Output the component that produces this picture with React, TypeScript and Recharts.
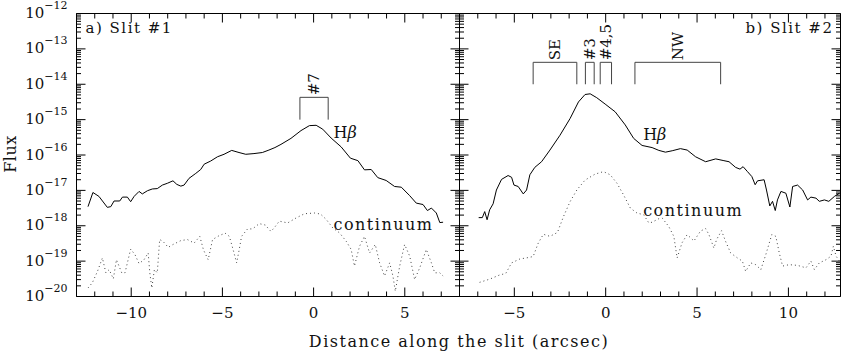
import {
  Line,
  LineChart,
  ReferenceArea,
  ReferenceDot,
  ReferenceLine,
  XAxis,
  YAxis,
} from "recharts";

const W = 844;
const H = 355;
const serif = "'DejaVu Serif', serif";
const ink = "#111";
const PLOT_TOP = 13.5;
const PLOT_BOTTOM = 296.5;

// Slit #1: distance (arcsec) and log10 flux
const slit1HbX = [
  -12.37, -12.1, -11.77, -11.31, -11.12, -10.94, -10.63, -10.48, -10.21, -10.03, -9.84, -9.57,
  -9.39, -9.11, -8.84, -8.57, -8.29, -8.02, -7.71, -7.5, -7.28, -7.1, -6.83, -6.46, -6.19, -6.0,
  -5.64, -5.27, -4.91, -4.49, -4.09, -3.72, -3.27, -2.81, -2.45, -2.12, -1.79, -1.24, -0.69,
  -0.23, 0.14, 0.5, 0.96, 1.51, 2.02, 2.43, 2.79, 3.16, 3.52, 3.98, 4.44, 4.81, 5.27, 5.63, 6.0,
  6.24, 6.46, 6.73, 6.92, 7.1,
];
const slit1HbLog = [
  -17.46, -17.06, -17.17, -17.48, -17.46, -17.3, -17.3, -17.19, -17.19, -17.32, -17.17, -17.03,
  -17.1, -17.01, -16.96, -16.95, -16.85, -16.8, -16.73, -16.83, -16.88, -16.85, -16.66, -16.52,
  -16.41, -16.26, -16.17, -16.05, -15.98, -15.87, -15.93, -15.98, -15.96, -15.93, -15.86, -15.79,
  -15.7, -15.53, -15.31, -15.17, -15.16, -15.27, -15.52, -15.77, -16.09, -16.16, -16.42, -16.41,
  -16.64, -16.72, -16.89, -16.91, -17.15, -17.36, -17.4, -17.57, -17.5, -17.64, -17.91, -17.9,
];
const slit1ContX = [
  -12.37, -12.13, -11.85, -11.58, -11.39, -11.21, -10.98, -10.81, -10.52, -10.34, -10.03, -9.79,
  -9.57, -9.3, -9.07, -8.98, -8.87, -8.73, -8.57, -8.44, -8.26, -7.97, -7.71, -7.28, -6.92, -6.55,
  -6.24, -6.04, -5.78, -5.54, -5.18, -4.85, -4.62, -4.41, -4.22, -4.08, -3.95, -3.62, -3.35, -2.98,
  -2.65, -2.34, -2.16, -1.88, -1.42, -0.96, -0.5, 0.05, 0.38, 0.69, 1.05, 1.42, 1.79, 2.06, 2.24,
  2.52, 2.79, 3.07, 3.38, 3.62, 3.89, 4.17, 4.35, 4.48, 4.72, 4.99, 5.27, 5.54, 5.82, 6.18, 6.46,
  6.64, 6.92, 7.1,
];
const slit1ContLog = [
  -19.76, -19.61, -19.29, -18.91, -19.33, -19.24, -19.5, -18.96, -19.33, -19.33, -18.66, -18.82,
  -19.07, -18.96, -18.77, -19.33, -19.76, -19.24, -19.33, -18.39, -18.44, -18.61, -18.53, -18.42,
  -18.39, -18.49, -18.3, -18.68, -18.96, -18.39, -18.28, -18.21, -18.3, -18.68, -19.05, -18.68,
  -18.3, -18.09, -18.09, -17.94, -17.98, -18.16, -18.06, -17.87, -17.92, -17.78, -17.66, -17.64,
  -17.67, -17.82, -18.06, -18.2, -18.44, -18.67, -19.14, -18.58, -18.3, -18.77, -18.53, -19.05,
  -19.42, -19.05, -19.42, -19.85, -19.14, -18.53, -18.86, -19.52, -19.19, -18.67, -19.05, -19.33,
  -19.33, -19.42,
];

// Slit #2
const slit2HbX = [
  -6.95, -6.75, -6.62, -6.49, -6.35, -6.16, -5.98, -5.7, -5.34, -5.15, -5.02, -4.79, -4.51, -4.33,
  -4.15, -3.88, -3.51, -3.05, -2.5, -1.95, -1.49, -1.13, -0.85, -0.49, -0.03, 0.52, 1.07, 1.53,
  1.99, 2.54, 2.91, 3.27, 3.64, 4.09, 4.46, 4.92, 5.47, 6.02, 6.47, 6.75, 7.11, 7.35, 7.52, 7.76,
  8.0, 8.18, 8.31, 8.67, 8.8, 8.98, 9.13, 9.28, 9.4, 9.59, 9.86, 10.08, 10.23, 10.5, 10.78, 11.05,
  11.23, 11.51, 11.69, 11.97, 12.21, 12.52, 12.79,
];
const slit2HbLog = [
  -17.77, -17.77, -17.6, -17.83, -17.55, -17.38, -16.99, -16.69, -16.58, -16.63, -16.85, -16.89,
  -17.1, -16.99, -16.56, -16.35, -16.19, -15.86, -15.44, -14.97, -14.5, -14.29, -14.27, -14.38,
  -14.56, -14.78, -15.15, -15.53, -15.73, -15.79, -15.87, -15.92, -15.88, -15.82, -15.86, -16.05,
  -16.19, -16.11, -16.16, -16.19, -16.35, -16.4, -16.33, -16.47, -16.61, -16.84, -16.73, -16.7,
  -16.99, -17.44, -17.31, -17.57, -17.27, -17.03, -17.08, -17.47, -16.89, -16.85, -16.99, -17.27,
  -17.19, -17.22, -17.31, -17.27, -17.31, -17.17, -17.08,
];
const slit2ContX = [
  -6.9, -6.35, -5.8, -5.47, -5.15, -4.7, -4.24, -3.97, -3.69, -3.41, -3.05, -2.64, -2.31, -1.95,
  -1.58, -1.13, -0.58, -0.12, 0.25, 0.62, 0.98, 1.35, 1.71, 2.08, 2.36, 2.54, 2.91, 3.09, 3.45,
  3.73, 3.91, 4.18, 4.46, 4.83, 5.19, 5.47, 5.65, 5.92, 6.07, 6.34, 6.56, 6.84, 7.21, 7.48, 7.66,
  7.94, 8.21, 8.49, 8.76, 9.09, 9.31, 9.5, 9.68, 10.04, 10.5, 10.96, 11.23, 11.42, 11.69, 12.06,
  12.33, 12.46, 12.61, 12.79,
];
const slit2ContLog = [
  -19.6, -19.51, -19.39, -19.35, -19.05, -18.94, -18.9, -18.87, -18.49, -18.24, -18.3, -18.19,
  -17.74, -17.32, -16.99, -16.71, -16.54, -16.47, -16.56, -16.8, -17.13, -17.5, -17.64, -17.69,
  -17.92, -17.9, -17.8, -17.78, -18.02, -18.3, -18.91, -18.48, -18.25, -18.43, -18.15, -18.08,
  -18.25, -18.63, -18.39, -18.14, -18.44, -18.77, -18.91, -19.0, -19.29, -19.05, -19.1, -19.24,
  -18.82, -18.25, -18.3, -18.77, -19.14, -19.1, -19.12, -19.19, -19.0, -19.24, -19.05, -18.96,
  -18.86, -18.58, -18.86, -19.0,
];

const decades = [-20, -19, -18, -17, -16, -15, -14, -13, -12];
const minorMultiples = [2, 3, 4, 5, 6, 7, 8, 9];
const slit1Ticks = [-13, -12, -11, -10, -9, -8, -7, -6, -5, -4, -3, -2, -1, 0, 1, 2, 3, 4, 5, 6, 7, 8];
const slit2Ticks = [-8, -7, -6, -5, -4, -3, -2, -1, 0, 1, 2, 3, 4, 5, 6, 7, 8, 9, 10, 11, 12];

const slit1Regions = [{ label: "#7", from: -0.75, to: 0.8 }];
const slit2Regions = [
  { label: "SE", from: -3.97, to: -1.58 },
  { label: "#3", from: -1.11, to: -0.63 },
  { label: "#4,5", from: -0.3, to: 0.32 },
  { label: "NW", from: 1.6, to: 6.29 },
];

const yTicks = [
  ...decades,
  ...decades.slice(0, -1).flatMap((d) => minorMultiples.map((m) => d + Math.log10(m))),
].sort((a, b) => a - b);

const toPoints = (xs: number[], ys: number[]) => xs.map((x, i) => ({ x, y: ys[i] }));

const minus = (v: number) => (v < 0 ? "\u2212" + Math.abs(v) : String(v));

function yTick(showLabel: boolean, rightEdge: number) {
  return (p: any) => {
    const v = p.payload.value;
    const major = Math.abs(v - Math.round(v)) < 1e-6;
    const len = major ? 9 : 4.5;
    return (
      <g>
        <line x1={p.x} x2={p.x + len} y1={p.y} y2={p.y} stroke="#000" />
        <line x1={rightEdge} x2={rightEdge - len} y1={p.y} y2={p.y} stroke="#000" />
        {major && showLabel && (
          <text x={p.x - 9} y={p.y + 4.5} textAnchor="end" fontFamily={serif} fontSize={15} fill={ink}>
            10
            <tspan dy={-9} fontSize={11}>
              {minus(Math.round(v))}
            </tspan>
          </text>
        )}
      </g>
    );
  };
}

function xTick(p: any) {
  const v = p.payload.value;
  const major = v % 5 === 0;
  const len = major ? 9 : 5;
  return (
    <g>
      <line x1={p.x} x2={p.x} y1={p.y} y2={p.y - len} stroke="#000" />
      <line x1={p.x} x2={p.x} y1={PLOT_TOP} y2={PLOT_TOP + len} stroke="#000" />
      {major && (
        <text x={p.x} y={p.y + 21.5} textAnchor="middle" fontFamily={serif} fontSize={15} fill={ink}>
          {minus(v)}
        </text>
      )}
    </g>
  );
}

type Region = { label: string; from: number; to: number };

type PanelProps = {
  left: number;
  right: number;
  domain: [number, number];
  xTicks: number[];
  hb: { x: number; y: number }[];
  cont: { x: number; y: number }[];
  regions: Region[];
  regionTop: number;
  regionBottom: number;
  title: string;
  titleRight: boolean;
  hbLabel: [number, number];
  contLabel: [number, number];
  yLabels: boolean;
};

function Panel(props: PanelProps) {
  const { left, right, domain, regions, regionTop, regionBottom } = props;
  return (
    <LineChart
      width={W}
      height={H}
      margin={{ top: PLOT_TOP, left: left - 20, right: W - right, bottom: H - PLOT_BOTTOM - 20 }}
    >
      <XAxis
        dataKey="x"
        type="number"
        domain={domain}
        allowDataOverflow
        ticks={props.xTicks}
        interval={0}
        height={20}
        tickSize={0}
        tickMargin={0}
        tickLine={false}
        axisLine={false}
        tick={xTick}
      />
      <YAxis
        type="number"
        domain={[-20, -12]}
        allowDataOverflow
        ticks={yTicks}
        interval={0}
        width={20}
        tickSize={0}
        tickMargin={0}
        tickLine={false}
        axisLine={false}
        tick={yTick(props.yLabels, right)}
      />
      <ReferenceArea
        x1={domain[0]}
        x2={domain[1]}
        y1={-20}
        y2={-12}
        fill="none"
        stroke="#000"
        strokeWidth={1}
        ifOverflow="visible"
      />
      <Line data={props.hb} dataKey="y" type="linear" dot={false} stroke="#000" strokeWidth={1} isAnimationActive={false} />
      <Line
        data={props.cont}
        dataKey="y"
        type="linear"
        dot={false}
        stroke="#444"
        strokeWidth={1}
        strokeDasharray="1 3"
        isAnimationActive={false}
      />
      {regions.map((r) => (
        <ReferenceLine key={r.label + "t"} segment={[{ x: r.from, y: regionTop }, { x: r.to, y: regionTop }]} stroke="#444" />
      ))}
      {regions.map((r) => (
        <ReferenceLine key={r.label + "a"} segment={[{ x: r.from, y: regionTop }, { x: r.from, y: regionBottom }]} stroke="#444" />
      ))}
      {regions.map((r) => (
        <ReferenceLine key={r.label + "b"} segment={[{ x: r.to, y: regionTop }, { x: r.to, y: regionBottom }]} stroke="#444" />
      ))}
      {regions.map((r) => (
        <ReferenceDot
          key={r.label + "l"}
          x={(r.from + r.to) / 2}
          y={regionTop}
          r={0}
          shape={(p: any) => (
            <text
              x={p.cx + 5}
              y={p.cy - 2}
              transform={`rotate(-90 ${p.cx + 5} ${p.cy - 2})`}
              fontFamily={serif}
              fontSize={15}
              fill={ink}
            >
              {r.label}
            </text>
          )}
        />
      ))}
      <ReferenceDot
        x={props.titleRight ? domain[1] : domain[0]}
        y={-12}
        r={0}
        shape={(p: any) => (
          <text
            x={props.titleRight ? p.cx - 7 : p.cx + 9}
            y={p.cy + 19.5}
            textAnchor={props.titleRight ? "end" : "start"}
            fontFamily={serif}
            fontSize={15}
            letterSpacing={1.5}
            fill={ink}
          >
            {props.title}
          </text>
        )}
      />
      <ReferenceDot
        x={props.hbLabel[0]}
        y={props.hbLabel[1]}
        r={0}
        shape={(p: any) => (
          <text x={p.cx} y={p.cy} fontFamily={serif} fontSize={16} fill={ink}>
            H<tspan fontStyle="italic">β</tspan>
          </text>
        )}
      />
      <ReferenceDot
        x={props.contLabel[0]}
        y={props.contLabel[1]}
        r={0}
        shape={(p: any) => (
          <text x={p.cx} y={p.cy} fontFamily={serif} fontSize={16} letterSpacing={1.5} fill={ink}>
            continuum
          </text>
        )}
      />
    </LineChart>
  );
}

export default function App() {
  return (
    <div style={{ position: "absolute", left: 0, top: 0, width: W, height: H, background: "#fff", overflow: "hidden" }}>
      <div style={{ position: "absolute", left: 0, top: 0 }}>
        <Panel
          left={76.5}
          right={459.5}
          domain={[-13, 8]}
          xTicks={slit1Ticks}
          hb={toPoints(slit1HbX, slit1HbLog)}
          cont={toPoints(slit1ContX, slit1ContLog)}
          regions={slit1Regions}
          regionTop={-14.37}
          regionBottom={-15}
          title="a) Slit #1"
          titleRight={false}
          hbLabel={[1.09, -15.52]}
          contLabel={[1.09, -18.12]}
          yLabels
        />
      </div>
      <div style={{ position: "absolute", left: 0, top: 0 }}>
        <Panel
          left={459.5}
          right={840.5}
          domain={[-8, 12.85]}
          xTicks={slit2Ticks}
          hb={toPoints(slit2HbX, slit2HbLog)}
          cont={toPoints(slit2ContX, slit2ContLog)}
          regions={slit2Regions}
          regionTop={-13.38}
          regionBottom={-14}
          title="b) Slit #2"
          titleRight
          hbLabel={[2.05, -15.57]}
          contLabel={[2.05, -17.72]}
          yLabels={false}
        />
      </div>
      <svg width={W} height={H} style={{ position: "absolute", left: 0, top: 0, pointerEvents: "none" }}>
        <text
          x={16}
          y={154}
          transform="rotate(-90 16 154)"
          textAnchor="middle"
          fontFamily={serif}
          fontSize={16}
          letterSpacing={0.5}
          fill={ink}
        >
          Flux
        </text>
        <text x={459} y={347} textAnchor="middle" fontFamily={serif} fontSize={16} letterSpacing={1.5} fill={ink}>
          Distance along the slit (arcsec)
        </text>
      </svg>
    </div>
  );
}
